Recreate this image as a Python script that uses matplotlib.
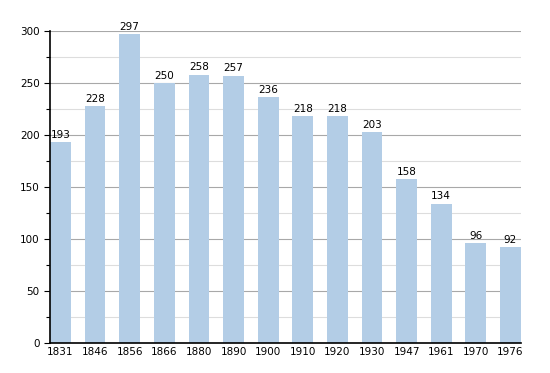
import numpy as np
import matplotlib.pyplot as plt
from matplotlib.ticker import MultipleLocator

years = ["1831", "1846", "1856", "1866", "1880", "1890", "1900",
         "1910", "1920", "1930", "1947", "1961", "1970", "1976"]
population = [193, 228, 297, 250, 258, 257, 236, 218, 218, 203, 158, 134, 96, 92]

fig = plt.figure(figsize=(5.5, 3.73), dpi=100)
ax = fig.add_axes([0.091, 0.0804, 0.856, 0.837])

x = np.arange(len(years))
ax.bar(x, population, width=0.6, color="#b3cde6", zorder=2)
for xi, v in zip(x, population):
    ax.text(xi, v + 2, str(v), ha="center", va="bottom", fontsize=7.5, zorder=3)

ax.set_xlim(-0.3, len(years) - 0.7)
ax.set_ylim(0, 300)
ax.set_xticks(x)
ax.set_xticklabels(years, fontsize=7.5)
ax.yaxis.set_major_locator(MultipleLocator(50))
ax.yaxis.set_minor_locator(MultipleLocator(25))
ax.tick_params(axis="y", labelsize=7.5, length=4, width=0.8)
ax.tick_params(axis="y", which="minor", length=3, width=0.8)
ax.tick_params(axis="x", length=0, pad=3)

ax.grid(axis="y", which="major", color="#a8a8a8", linewidth=0.8, zorder=1)
ax.grid(axis="y", which="minor", color="#dddddd", linewidth=0.8, zorder=1)
ax.set_axisbelow(True)
for s in ["top", "right"]:
    ax.spines[s].set_visible(False)
ax.spines["left"].set_linewidth(1.2)
ax.spines["bottom"].set_linewidth(1.2)

fig.savefig("out.png", dpi=100)
